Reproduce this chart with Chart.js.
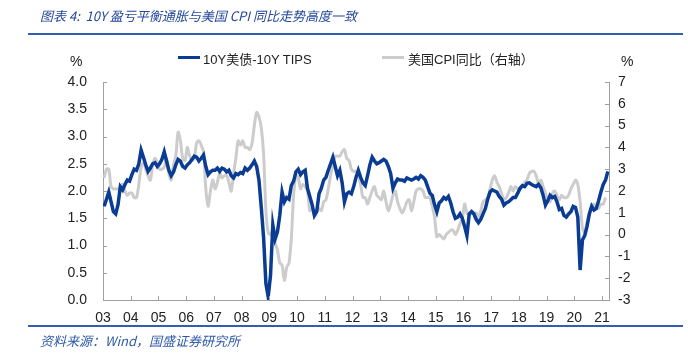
<!DOCTYPE html>
<html>
<head>
<meta charset="utf-8">
<script src="https://cdn.jsdelivr.net/npm/chart.js@4"></script>
<style>
  body { margin: 0; background: #fff; }
  #wrap { position: relative; width: 688px; height: 358px; overflow: hidden; font-family: "Liberation Sans Narrow", "Liberation Sans", "Noto Sans CJK SC", sans-serif; }
  #wrap canvas { position: absolute; left: 0; top: 0; }
  .title { position: absolute; left: 40px; top: 6px; font: italic 13px "Noto Sans CJK SC", sans-serif; color: #24489a; white-space: nowrap; }
  .rule { position: absolute; left: 28px; width: 655px; height: 2px; background: #2f5fae; }
  .source { position: absolute; left: 40px; top: 331px; font: italic 13px "Noto Sans CJK SC", sans-serif; color: #2f5aa8; white-space: nowrap; }
  .unit { position: absolute; top: 53px; font-size: 14px; color: #222; }
  .swatch { position: absolute; top: 56px; width: 22px; height: 3px; }
  .leg { position: absolute; top: 49px; font-size: 13px; color: #222; white-space: nowrap; }
</style>
</head>
<body>
<div id="wrap">
  <canvas id="chart" width="688" height="358"></canvas>
  <div class="title">图表 4:&nbsp; 10Y 盈亏平衡通胀与美国 CPI 同比走势高度一致</div>
  <div class="rule" style="top:33px"></div>
  <div class="unit" style="left:70px">%</div>
  <div class="unit" style="left:621px">%</div>
  <div class="swatch" style="left:178px;background:#0a3c94"></div>
  <div class="leg" style="left:203px">10Y美债-10Y TIPS</div>
  <div class="swatch" style="left:382px;background:#cccccc"></div>
  <div class="leg" style="left:408px">美国CPI同比（右轴）</div>
  <div class="rule" style="top:325px"></div>
  <div class="source">资料来源：Wind，国盛证券研究所</div>
</div>
<script>
// monthly data, first value = Jan 2003
const startYear = 2003;

// 10Y treasury minus 10Y TIPS (left axis, %)
const breakeven = [
  1.72, 1.85, 1.98, 1.80, 1.62, 1.58, 1.75, 2.08, 2.02, 2.12, 2.20, 2.18,
  2.30, 2.40, 2.38, 2.50, 2.75, 2.62, 2.48, 2.36, 2.42, 2.50, 2.52, 2.45,
  2.50, 2.58, 2.72, 2.55, 2.38, 2.28, 2.35, 2.48, 2.58, 2.55, 2.45, 2.42,
  2.48, 2.52, 2.58, 2.64, 2.62, 2.55, 2.60, 2.66, 2.45, 2.30, 2.35, 2.38,
  2.38, 2.42, 2.36, 2.42, 2.40, 2.35, 2.38, 2.28, 2.24, 2.32, 2.30, 2.34,
  2.32, 2.42, 2.38, 2.42, 2.48, 2.55, 2.45, 2.20, 1.70, 1.15, 0.30, 0.06,
  0.45, 1.38, 1.12, 1.25, 1.55, 1.98, 1.80, 1.88, 1.85, 2.10, 2.18, 2.35,
  2.40, 2.30, 2.35, 2.38, 2.05, 1.90, 1.75, 1.55, 1.62, 1.95, 2.05, 2.20,
  2.25, 2.38, 2.50, 2.62, 2.45, 2.28, 2.38, 2.15, 1.80, 1.95, 1.98, 1.95,
  2.08, 2.25, 2.38, 2.25, 2.15, 2.10, 2.28, 2.48, 2.62, 2.55, 2.50, 2.52,
  2.55, 2.58, 2.55, 2.45, 2.32, 2.05, 2.15, 2.22, 2.20, 2.20, 2.18, 2.24,
  2.22, 2.20, 2.22, 2.25, 2.22, 2.28, 2.25, 2.20, 2.08, 1.96, 1.92, 1.75,
  1.62, 1.78, 1.82, 1.88, 1.85, 1.90, 1.78, 1.62, 1.50, 1.52, 1.58, 1.50,
  1.35, 1.18, 1.58, 1.62, 1.58, 1.48, 1.42, 1.48, 1.58, 1.68, 1.85, 1.98,
  2.02, 2.00, 1.98, 1.90, 1.85, 1.74, 1.78, 1.80, 1.84, 1.88, 1.88, 1.96,
  2.05, 2.10, 2.08, 2.14, 2.15, 2.12, 2.10, 2.08, 2.12, 2.06, 1.92, 1.74,
  1.82, 1.92, 1.88, 1.90, 1.80, 1.66, 1.68, 1.55, 1.52, 1.58, 1.62, 1.72,
  1.70, 1.52, 0.55, 1.10, 1.18, 1.35, 1.58, 1.72, 1.65, 1.68, 1.82, 1.98,
  2.12, 2.20, 2.36
];

// US CPI year on year (right axis, %)
const cpiYoy = [
  2.6, 3.0, 3.0, 2.2, 2.1, 2.1, 2.1, 2.2, 2.3, 2.0, 1.8, 1.9,
  1.9, 1.7, 1.7, 2.3, 3.1, 3.3, 3.0, 2.7, 2.5, 3.2, 3.5, 3.3,
  3.0, 3.0, 3.1, 3.5, 2.8, 2.5, 3.2, 3.6, 4.7, 4.3, 3.5, 3.4,
  4.0, 3.6, 3.4, 3.5, 4.2, 4.3, 4.1, 3.8, 2.1, 1.3, 2.0, 2.5,
  2.1, 2.4, 2.8, 2.6, 2.7, 2.7, 2.4, 2.0, 2.8, 3.5, 4.3, 4.1,
  4.3, 4.0, 4.0, 3.9, 4.2, 5.0, 5.6, 5.4, 4.9, 3.7, 1.1, 0.1,
  0.0, 0.2, -0.4, -0.7, -1.3, -1.4, -2.1, -1.5, -1.3, -0.2, 1.8, 2.7,
  2.6, 2.1, 2.3, 2.2, 2.0, 1.1, 1.2, 1.1, 1.1, 1.2, 1.1, 1.5,
  1.6, 2.1, 2.7, 3.2, 3.6, 3.6, 3.6, 3.8, 3.9, 3.5, 3.4, 3.0,
  2.9, 2.9, 2.7, 2.3, 1.7, 1.7, 1.4, 1.7, 2.0, 2.2, 1.8, 1.7,
  1.6, 2.0, 1.5, 1.1, 1.4, 1.8, 2.0, 1.5, 1.2, 1.0, 1.2, 1.5,
  1.6, 1.1, 1.5, 2.0, 2.1, 2.1, 2.0, 1.7, 1.7, 1.7, 1.3, 0.8,
  -0.1, 0.0, -0.1, -0.2, 0.0, 0.1, 0.2, 0.2, 0.0, 0.2, 0.5, 0.7,
  1.4, 1.0, 0.9, 1.1, 1.0, 1.0, 0.8, 1.1, 1.5, 1.6, 1.7, 2.1,
  2.5, 2.7, 2.4, 2.2, 1.9, 1.6, 1.7, 1.9, 2.2, 2.0, 2.2, 2.1,
  2.1, 2.2, 2.4, 2.5, 2.8, 2.9, 2.9, 2.7, 2.3, 2.5, 2.2, 1.9,
  1.6, 1.5, 1.9, 2.0, 1.8, 1.6, 1.8, 1.7, 1.7, 1.8, 2.1, 2.3,
  2.5, 2.3, 1.5, 0.3, 0.1, 0.6, 1.0, 1.3, 1.4, 1.2, 1.2, 1.4,
  1.4, 1.7
];

// x axis shows two-digit years 03 .. 21
const yearTicks = ['03','04','05','06','07','08','09','10','11','12','13','14','15','16','17','18','19','20','21'];

// month index -> decimal year (middle of the month)
function toPoints(values) {
  return values.map((v, i) => ({ x: startYear + (i + 0.5) / 12, y: v }));
}

// small tick marks pointing into the plot, like the original
const innerTicks = {
  id: 'innerTicks',
  afterDraw(chart) {
    const { ctx, chartArea: a, scales } = chart;
    ctx.save();
    ctx.strokeStyle = '#a0a0a0';
    ctx.lineWidth = 1;
    ctx.beginPath();
    scales.x.ticks.forEach(t => {
      const px = Math.round(scales.x.getPixelForValue(t.value)) + 0.5;
      ctx.moveTo(px, a.bottom); ctx.lineTo(px, a.bottom - 4);
    });
    scales.y.ticks.forEach(t => {
      const py = Math.round(scales.y.getPixelForValue(t.value)) + 0.5;
      ctx.moveTo(a.left, py); ctx.lineTo(a.left + 4, py);
    });
    scales.y1.ticks.forEach(t => {
      const py = Math.round(scales.y1.getPixelForValue(t.value)) + 0.5;
      ctx.moveTo(a.right, py); ctx.lineTo(a.right - 4, py);
    });
    ctx.stroke();
    ctx.restore();
  }
};

const tickFont = { family: '"Liberation Sans Narrow", "Liberation Sans", sans-serif', size: 14 };
const axisBorder = { display: true, color: '#a0a0a0', width: 1 };

new Chart(document.getElementById('chart').getContext('2d'), {
  type: 'line',
  data: {
    datasets: [
      {
        label: '10Y美债-10Y TIPS',
        data: toPoints(breakeven),
        yAxisID: 'y',
        borderColor: '#0a3c94',
        borderWidth: 3.5,
        pointRadius: 0,
        tension: 0
      },
      {
        label: '美国CPI同比（右轴）',
        data: toPoints(cpiYoy),
        yAxisID: 'y1',
        borderColor: '#cccccc',
        borderWidth: 3,
        pointRadius: 0,
        tension: 0.3
      }
    ]
  },
  options: {
    responsive: false,
    animation: false,
    layout: { padding: { top: 82, bottom: 28, left: 0, right: 0 } },
    plugins: { legend: { display: false }, tooltip: { enabled: false } },
    scales: {
      x: {
        type: 'linear',
        min: 2003,
        max: 2021.25,
        afterFit: s => { s.height = 30; },
        grid: { drawOnChartArea: false, drawTicks: false },
        border: axisBorder,
        ticks: {
          stepSize: 1,
          includeBounds: false,
          padding: 10,
          color: '#222',
          font: tickFont,
          maxRotation: 0,
          autoSkip: false,
          callback: v => yearTicks[v - startYear]
        }
      },
      y: {
        position: 'left',
        min: 0,
        max: 4,
        afterFit: s => { s.width = 103; },
        grid: { drawOnChartArea: false, drawTicks: false },
        border: axisBorder,
        ticks: { stepSize: 0.5, padding: 16, color: '#222', font: tickFont, callback: v => v.toFixed(1) }
      },
      y1: {
        position: 'right',
        min: -3,
        max: 7,
        afterFit: s => { s.width = 79; },
        grid: { drawOnChartArea: false, drawTicks: false },
        border: axisBorder,
        ticks: { stepSize: 1, padding: 9, color: '#222', font: tickFont }
      }
    }
  },
  plugins: [innerTicks]
});
</script>
</body>
</html>
